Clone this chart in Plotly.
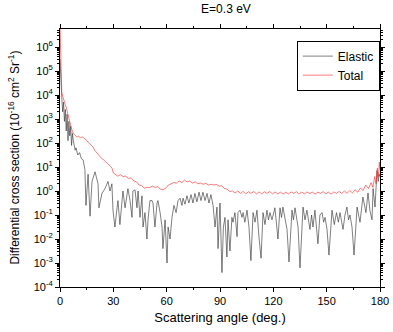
import plotly.graph_objects as go

# Elastic DCS: angle (deg) and log10 of cross section (10^-16 cm^2 Sr^-1)
elastic_angle = [0, 0.3, 0.6, 1.0, 1.5, 2.0, 2.5, 3.0, 3.5, 4.0, 4.5, 5.0, 5.5, 6.0, 6.5, 7.0, 7.5, 8.0, 8.5, 9.0,
                 10.0, 11.0, 12.0, 13.0, 14.0, 14.6, 15.8, 16.9, 18.0, 19.7, 21.4, 21.9, 23.6, 25.3, 27.0, 28.1, 29.2, 29.8,
                 30.9, 32.1, 32.6, 33.7, 34.9, 35.4, 36.6, 37.7, 38.2, 39.4, 40.5, 41.0, 42.2, 43.3, 43.9, 45.0, 46.1, 46.7,
                 47.8, 48.9, 49.5, 50.6, 51.8, 52.3, 53.4, 54.6, 55.1, 56.3, 57.4, 57.9, 59.1, 60.2, 60.8, 61.9, 63.0, 64.1,
                 65.3, 66.4, 67.5, 68.6, 69.2, 70.3, 71.4, 72.5, 73.7, 74.8, 75.9, 77.0, 78.2, 79.3, 80.4, 81.6, 82.7, 83.8,
                 84.9, 86.1, 87.2, 88.3, 88.9, 90.0, 91.1, 91.9, 92.8, 93.9, 94.5, 95.6, 96.7, 97.3, 98.4, 99.6, 100.1,
                 101.25, 102.4, 103.0, 104.0, 105.2, 106.3, 107.4, 108.6, 109.7, 110.8, 111.9, 113.1, 114.2, 115.3, 116.4,
                 117.3, 118.1, 119.25, 120.9, 122.6, 123.75, 124.6, 125.4, 127.7, 128.8, 130.5, 131.3, 132.2, 133.9, 135.0,
                 136.7, 137.8, 138.9, 140.6, 141.5, 142.3, 143.4, 145.1, 146.2, 147.4, 148.3, 149.1, 150.2, 151.3, 153.0,
                 154.3, 155.5, 156.6, 157.5, 159.2, 160.3, 161.4, 162.3, 163.1, 164.25, 165.4, 167.1, 168.75, 170.4, 172.1,
                 173.25, 174.3, 175.5, 176.1, 177.2, 178.3, 179.0, 179.5, 180.0]
elastic_log10 = [5.5, 4.8, 4.3, 3.9, 3.3, 3.7, 2.9, 3.4, 2.5, 3.2, 2.1, 2.9, 2.3, 2.7, 1.9, 2.4, 2.1, 1.9, 1.7, 1.8,
                 1.5, 1.6, 1.35, 1.3, 0.9, -0.6, 0.7, -1.05, 0.4, 0.8, 0.3, -0.7, -0.1, 0.1, 0.4, 0.0, 0.3, -0.8,
                 -1.5, -0.7, -0.4, -1.4, -0.3, 0.0, -0.7, 0.0, 0.1, -0.4, -1.1, 0.0, 0.05, -0.7, 0.0, -1.1, -0.2, -1.5,
                 -0.9, -2.0, -1.2, -0.4, -0.4, -0.5, -1.5, -0.5, -0.4, -0.9, -1.5, -2.4, -1.2, -3.0, -1.5, -2.0, -1.1, -0.6,
                 -0.9, -0.4, -0.3, -0.6, -0.3, -0.55, -0.2, -0.5, -0.15, -0.5, -0.1, -0.45, -0.05, -0.4, -0.05, -0.4, -0.1, -0.5,
                 -0.15, -0.6, -1.5, -0.67, -2.4, -0.5, -3.4, -1.5, -1.1, -2.75, -1.2, -2.5, -1.1, -1.3, -0.9, -1.9, -0.9,
                 -0.8, -1.1, -0.9, -1.3, -0.8, -1.5, -2.9, -0.9, -1.3, -0.8, -1.9, -2.8, -0.9, -1.4, -0.8,
                 -1.2, -0.9, -1.2, -0.7, -2.0, -0.7, -1.1, -0.67, -1.6, -2.96, -0.8, -1.2, -0.7, -1.5, -3.2,
                 -0.67, -1.2, -0.8, -1.6, -1.0, -1.5, -0.8, -2.2, -1.0, -0.9, -1.3, -1.1, -1.6, -2.67, -0.8,
                 -1.4, -0.9, -1.3, -0.9, -1.6, -1.0, -0.67, -1.2, -1.0, -1.5, -2.67, -0.67, -1.3, -0.25, -0.9,
                 -0.08, -0.8, -1.2, 0.1, -0.67, 0.85, 0.4, 0.7, 0.6]

# Total DCS: angle (deg) and log10 of cross section
total_angle = [0, 0.2, 0.4, 0.6, 1.0, 1.7, 2.5, 3.0, 3.8, 4.5, 5.6, 6.5, 7.5, 8.4, 9.5, 10.5, 11.5, 12.5, 13.5, 14.5,
               15.5, 16.5, 17.5, 18.6, 19.5, 20.5, 21.5, 22.5, 23.5, 24.5, 25.5, 26.4, 27.5, 28.5, 29.3, 30.0, 31.0,
               32.5, 34, 35.5, 37, 38.5, 40, 41.5, 43, 44.5, 46, 47.5, 49, 50.5, 52, 53.5, 55, 56.5, 58, 59.5, 61, 62.5,
               64, 65.5, 67, 68.5, 70, 71.5, 73, 74.5, 76, 77.5, 79, 80.5, 82, 83.5, 85, 86.5, 88, 89.5, 91, 92.5, 94,
               95.5, 97, 98.5, 100, 101.5, 103, 104.5, 106, 107.5, 109, 110.5, 112, 113.5, 115, 116.5, 118, 119.5, 121,
               122.5, 124, 125.5, 127, 128.5, 130, 131.5, 133, 134.5, 136, 137.5, 139, 140.5, 142, 143.5, 145, 146.5,
               148, 149.5, 151, 152.5, 154, 155.5, 157, 158.5, 160, 161.5, 163, 164.5, 166, 167.5, 169, 170.5, 172,
               173.5, 175, 176, 177, 177.8, 178.5, 179.2, 179.6, 180]
total_log10 = [6.9, 6.2, 5.3, 4.4, 4.1, 3.9, 3.75, 3.6, 3.4, 3.15, 2.85, 2.6, 2.4, 2.33, 2.25, 2.28, 2.22, 2.25, 2.2, 2.15,
               2.05, 1.98, 1.92, 1.83, 1.7, 1.6, 1.5, 1.42, 1.35, 1.3, 1.22, 1.17, 1.05, 1.0, 0.95, 0.75, 0.7,
               0.62, 0.68, 0.6, 0.62, 0.52, 0.55, 0.42, 0.38, 0.25, 0.22, 0.12, 0.15, 0.15, 0.2, 0.15, 0.18, 0.08, 0.05,
               0.12, 0.25, 0.3, 0.35, 0.33, 0.42, 0.35, 0.45, 0.38, 0.42, 0.33, 0.38, 0.3, 0.33, 0.28, 0.32, 0.25, 0.28,
               0.25, 0.27, 0.2, 0.22, 0.1, 0.08, -0.02, 0.0, -0.08, 0.0, -0.1, -0.02, -0.12, -0.03, -0.1, -0.02, -0.12,
               -0.04, -0.12, -0.03, -0.1, -0.02, -0.12, -0.04, -0.12, -0.05, -0.13, -0.05, -0.12, -0.04, -0.1, -0.03,
               -0.12, -0.05, -0.12, -0.04, -0.11, -0.05, -0.13, -0.05, -0.1, -0.03, -0.12, -0.05, -0.13, -0.04, -0.1,
               -0.02, -0.1, 0.0, -0.1, 0.02, -0.08, 0.05, -0.05, 0.12, 0.02, 0.25, 0.1, 0.35, 0.15, 0.6, 0.3, 0.95, 0.6,
               1.2, 0.9]

elastic_values = [10 ** v for v in elastic_log10]
total_values = [10 ** v for v in total_log10]

x_ticks = [0, 30, 60, 90, 120, 150, 180]
y_tick_exponents = [-4, -3, -2, -1, 0, 1, 2, 3, 4, 5, 6]
y_tick_vals = [10 ** e for e in y_tick_exponents]
y_tick_text = ["10<sup>%d</sup>" % e for e in y_tick_exponents]

FONT = "Liberation Sans, Arial, sans-serif"

fig = go.Figure()
fig.add_trace(go.Scatter(x=elastic_angle, y=elastic_values, mode="lines", name="Elastic",
                         line=dict(color="#2a2a2a", width=0.6)))
fig.add_trace(go.Scatter(x=total_angle, y=total_values, mode="lines", name="Total",
                         line=dict(color="#ff2020", width=0.6)))

fig.update_layout(
    width=393, height=332,
    margin=dict(l=60, r=13, t=29, b=45),
    paper_bgcolor="white", plot_bgcolor="white",
    font=dict(family=FONT, color="black", size=11),
    title=dict(text="E=0.3 eV", x=0.575, xanchor="center", y=0.985, yanchor="top",
               font=dict(family=FONT, size=12, color="black")),
    legend=dict(x=0.74, y=0.955, xanchor="left", yanchor="top",
                bgcolor="white", bordercolor="black", borderwidth=1,
                font=dict(family=FONT, size=12, color="black"),
                tracegroupgap=0, itemwidth=30),
    showlegend=True,
    annotations=[dict(
        text="Differential cross section (10<sup>-16</sup> cm<sup>2</sup> Sr<sup>-1</sup>)",
        xref="paper", yref="paper", x=-0.145, y=0.5, xanchor="center", yanchor="middle",
        textangle=-90, showarrow=False, font=dict(family=FONT, size=12, color="black"))],
)
fig.update_xaxes(
    range=[0, 180], tickvals=x_ticks, ticktext=[str(t) for t in x_ticks],
    showline=True, linecolor="black", linewidth=1, mirror="allticks", automargin=False,
    ticks="outside", ticklen=4, tickcolor="black", showgrid=False, zeroline=False,
    minor=dict(tickvals=[15, 45, 75, 105, 135, 165], ticks="outside", ticklen=2, tickcolor="black"),
    title=dict(text="Scattering angle (deg.)", font=dict(family=FONT, size=13), standoff=6),
    tickfont=dict(family=FONT, size=11),
)
fig.update_yaxes(
    type="log", range=[-4, 6.75], tickvals=y_tick_vals, ticktext=y_tick_text,
    showline=True, linecolor="black", linewidth=1, mirror="allticks", automargin=False,
    ticks="outside", ticklen=4, tickcolor="black", showgrid=False, zeroline=False,
    minor=dict(ticks="outside", ticklen=2, tickcolor="black", dtick="D1"),
    tickfont=dict(family=FONT, size=11),
)

fig.write_html("out.html", config={"displayModeBar": False},
               post_script="document.body.style.margin='0';document.body.style.padding='0';")
